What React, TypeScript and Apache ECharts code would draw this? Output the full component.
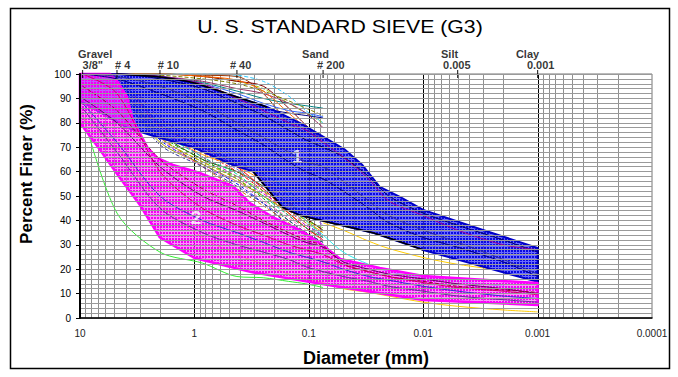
import React, { useEffect, useRef } from 'react';
import * as echarts from 'echarts';

const FONT = 'Liberation Sans, Arial, Helvetica, sans-serif';

// ---------- axis ticks ----------
const xTickLabels = ['10', '1', '0.1', '0.01', '0.001', '0.0001'];
const minorMultipliers = [2, 3, 4, 5, 6, 7, 8, 9];
const decadeBases = [1, 0.1, 0.01, 0.001, 0.0001];
const decadeLines = [1, 0.1, 0.01, 0.001];

// ---------- header (sieves & soil classes) ----------
const sieveMarks = [9.5, 4.75, 2.0, 0.425, 0.075, 0.005, 0.001];
const sieveNames = ['3/8"', '# 4', '# 10', '# 40', '# 200', '0.005', '0.001'];
const soilClassMarks = [9.5, 0.075, 0.005, 0.001];
const soilClassNames = ['Gravel', 'Sand', 'Silt', 'Clay'];

// ---------- sizes (mm) ----------
const sieveSizes = [9.5, 4.75, 2.0, 0.85, 0.425, 0.25, 0.15, 0.106, 0.075];
const hydroSizes = [0.05, 0.03, 0.02, 0.01, 0.005, 0.002, 0.001];

// ---------- envelope 1 (blue) ----------
const band1TopSizes = [10, 4.75, 2.0, 1.0, 0.425, 0.232, 0.119, 0.072, 0.048, 0.034, 0.024, 0.016, 0.01, 0.0032, 0.001];
const band1TopValues = [100, 100, 98.8, 96.3, 90.6, 86.5, 79.9, 73.8, 68.9, 62.7, 53.7, 49.6, 44.3, 36.5, 28.7];
const band1BottomSizes = [10, 3.88, 2.12, 1.03, 0.46, 0.306, 0.218, 0.17, 0.12, 0.053, 0.027, 0.01, 0.001];
const band1BottomValues = [89, 78, 74.2, 70, 62.7, 60, 51.6, 45.5, 42.2, 38.1, 34.8, 27.9, 14.8];

// ---------- envelope 2 (magenta) ----------
const band2TopSizes = [10, 5.47, 4.66, 3.88, 3.44, 2.59, 2.12, 1.54, 0.89, 0.46, 0.325, 0.2, 0.119, 0.08, 0.053, 0.024, 0.01, 0.001];
const band2TopValues = [100, 100, 96.7, 90.6, 81, 70, 65.6, 62.7, 59.4, 54, 47, 41, 36, 30.7, 24.2, 20.5, 17.2, 14.3];
const band2BottomSizes = [10, 6.69, 4.47, 2.99, 2.0, 1.0, 0.325, 0.1, 0.053, 0.01, 0.001];
const band2BottomValues = [80, 68.9, 57.4, 46.3, 33, 24.6, 18.9, 14.8, 12.7, 7.4, 5.3];

const bandLabelSizes = [0.127, 0.97];
const bandLabelValues = [66, 41];
const bandLabelNames = ['1', '2'];

// ---------- individual gradation curves (sieve only: 9 values) ----------
const lnBrown = [100, 100, 100, 99.5, 99, 92, 80, 76, 74];
const lnLimeDash = [100, 100, 100, 99, 97, 94, 88, 84, 80];
const lnSkyDash = [100, 100, 100, 100, 99.5, 97, 91, 85, 80];
const lnTeal = [100, 100, 99, 96.5, 93, 90, 88, 87, 86];
const lnNavyTop = [100, 100, 99, 95, 90, 86, 84, 83, 82];
const lnMaroon = [100, 100, 100, 99, 97, 95, 86, 79, 73];
const lnPlum = [100, 100, 99, 97, 94, 92, 88, 84, 78];
const lnOliveDash = [100, 100, 99.5, 98, 96, 93, 89, 86, 83];
const lnOrangeTop = [100, 100, 100, 99, 97.5, 93, 84, 78, 73];
const lnRoyal = [100, 100, 99, 96, 92, 88, 85, 84, 82.5];

const lnRedDash = [100, 97, 78, 68, 60, 52, 42, 37, 33];
const lnGreenDash = [100, 95, 75, 65, 57, 49, 40, 35, 31];
const lnOrange = [100, 97, 77, 67, 62, 56, 46, 40, 35];
const lnBlueDash = [100, 94, 73, 63, 55, 47, 38, 34, 30];
const lnVioletDash = [100, 99, 79, 69, 63, 58, 50, 44, 38];
const lnOlive = [100, 93, 72, 63, 56, 50, 43, 37, 32];
const lnTeal2 = [100, 98, 80, 70, 64, 59, 52, 46, 42];
const lnBrownDash = [100, 96, 75, 62, 53, 46, 39, 34, 30];
const lnMagentaDash = [100, 97, 78, 66, 58, 51, 44, 38, 34];
const lnForest = [100, 95, 76, 65, 60, 54, 47, 41, 36];
const lnCrimsonDash = [100, 99, 82, 71, 64, 57, 48, 41, 36];
const lnSlateDash = [100, 96, 76, 68, 61, 53, 45, 39, 33];
const lnRed = [100, 98, 79, 70, 62, 53, 43, 37, 32];
const lnLimeDash2 = [100, 94, 74, 64, 58, 52, 45, 40, 37];
const lnPinkDash = [100, 96, 74, 62, 56, 48, 41, 36, 32];
const lnGoldDash = [100, 95, 74, 64, 57, 50, 44, 39, 35];
const lnSeaDash = [100, 97, 77, 66, 59, 50, 42, 37, 33];
const lnNavyDash = [100, 93, 71, 62, 54, 47, 40, 35, 31];
const lnGreen = [84, 43, 27, 22.5, 17, 16.5, 15, 14, 12.5];

// ---------- curves with hydrometer part (16 values) ----------
const lnCyan = [100, 100, 98, 88, 76, 64, 50, 40, 34, 27, 22, 19, 16.5, 15, 13, 11.5];
const lnYellowUpper = [null, null, null, null, null, null, null, null, 39, 36, 31.5, 28.5, 24.8, 22, 19.5, null];
const lnYellowLower = [82, 70, 47, 33, 26, 22, 18, 16, 14.5, 12, 10.5, 9, 6.5, 4.8, 3.3, 2.5];
const lnNavyBand = [100, 100, 98, 94, 88, 83, 77, 73, 70, 66, 58, 50, 43, 38, 32, 27];
const lnPurpleBand = [100, 100, 99, 96, 90, 85, 80, 77, 72, 66, 57, 48, 42, 36, 30, 28];
const lnIndigoBand = [100, 99, 95, 88, 80, 74, 68, 64, 62, 56, 48, 42, 36, 31, 24, 18];
const lnDarkBlueBand = [100, 98, 92, 85, 77, 71, 64, 60, 57, 52, 45, 39, 33, 29, 23, 17];
const lnPlumBand = [90, 80, 62, 50, 44, 39, 34, 31, 29, 23, 20, 18, 16, 14, 12, 10];
const lnRedBand = [95, 85, 65, 53, 46, 40, 35, 32, 29.5, 22, 19, 17, 15, 13, 11.5, 10.5];
const lnBlueBand2 = [88, 72, 50, 40, 35, 31, 27, 25, 23, 20, 17, 15.5, 13, 11, 9, 8];
const lnRoseBand = [100, 92, 60, 45, 38, 34, 30, 28, 26, 22, 19, 17, 14.5, 12.5, 11, 9.5];
const lnGrapeBand = [86, 68, 45, 35, 30, 27, 24, 21, 19, 17, 15, 13, 11, 9, 7.5, 6.5];

// ---------- styles (kept apart from data) ----------
const underStyles: [(number | null)[], string, boolean][] = [
  [lnBrown, '#993300', false],
  [lnLimeDash, '#99cc00', true],
  [lnSkyDash, '#33ccff', true],
  [lnTeal, '#008080', false],
  [lnNavyTop, '#000080', false],
  [lnMaroon, '#800000', false],
  [lnPlum, '#993366', false],
  [lnOliveDash, '#808000', true],
  [lnOrangeTop, '#ff6600', false],
  [lnRoyal, '#3366ff', false],
  [lnRedDash, '#ff0000', true],
  [lnGreenDash, '#00aa00', true],
  [lnOrange, '#ff9900', false],
  [lnBlueDash, '#0000ff', true],
  [lnVioletDash, '#9933ff', true],
  [lnOlive, '#999900', false],
  [lnTeal2, '#009999', false],
  [lnBrownDash, '#cc6600', true],
  [lnMagentaDash, '#cc00cc', true],
  [lnForest, '#336600', false],
  [lnCrimsonDash, '#990000', true],
  [lnSlateDash, '#6666cc', true],
  [lnRed, '#ff0000', false],
  [lnLimeDash2, '#66cc00', true],
  [lnPinkDash, '#ff66cc', true],
  [lnGoldDash, '#cc9900', true],
  [lnSeaDash, '#00cc99', true],
  [lnNavyDash, '#333399', true],
  [lnGreen, '#33ee33', false],
  [lnCyan, '#33eeee', false],
  [lnYellowUpper, '#ffcc00', false],
  [lnYellowLower, '#ffcc00', false],
];
const overStyles: [number[], string, boolean][] = [
  [lnNavyBand, '#000066', false],
  [lnPurpleBand, '#990099', false],
  [lnIndigoBand, '#333399', false],
  [lnDarkBlueBand, '#000080', false],
  [lnPlumBand, '#660066', false],
  [lnRedBand, '#990033', true],
  [lnBlueBand2, '#3333cc', false],
  [lnRoseBand, '#cc0066', false],
  [lnGrapeBand, '#663399', false],
];
const sieveLabelDx = [0, -2, -2.3, -7, -6, -14.6, -10.7];
const classLabelDx = [-4.5, -21, -16.6, -21.7];

function pairs(sizes: number[], values: (number | null)[]) {
  const out: number[][] = [];
  values.forEach((v, i) => {
    if (v != null) out.push([sizes[i], v]);
  });
  return out;
}

function makePattern(base: string, gap: string) {
  const c = document.createElement('canvas');
  c.width = 3;
  c.height = 3;
  const ctx = c.getContext('2d')!;
  ctx.fillStyle = base;
  ctx.fillRect(0, 0, 3, 3);
  ctx.clearRect(0, 0, 3, 1);
  ctx.clearRect(0, 0, 1, 3);
  ctx.fillStyle = gap;
  ctx.fillRect(0, 0, 3, 1);
  ctx.fillRect(0, 1, 1, 2);
  return { image: c.toDataURL(), repeat: 'repeat', imageWidth: 3, imageHeight: 3 } as any;
}

function lineSeries(values: (number | null)[], color: string, dashed: boolean, z: number) {
  const sizes = values.length === 9 ? sieveSizes : sieveSizes.concat(hydroSizes);
  return {
    type: 'line',
    data: pairs(sizes, values),
    symbol: 'none',
    showSymbol: false,
    smooth: 0.3,
    silent: true,
    z,
    lineStyle: { color, width: 1, type: dashed ? [4, 2] : 'solid' },
  };
}

function bandSeries(topS: number[], topV: number[], botS: number[], botV: number[], fill: any, stroke: string, lw: number) {
  return {
    type: 'custom',
    coordinateSystem: 'cartesian2d',
    data: [[1, 50]],
    silent: true,
    z: 3,
    renderItem: (_params: any, api: any) => {
      const pts: number[][] = [];
      topS.forEach((s, i) => pts.push(api.coord([s, topV[i]])));
      for (let i = botS.length - 1; i >= 0; i--) pts.push(api.coord([botS[i], botV[i]]));
      return {
        type: 'polygon',
        shape: { points: pts },
        style: { fill, stroke, lineWidth: lw, lineJoin: 'round' },
      };
    },
  };
}

function gridLineSeries(values: number[], color: string, z: number) {
  return {
    type: 'custom',
    coordinateSystem: 'cartesian2d',
    data: values.map((v) => [v, 50]),
    silent: true,
    z,
    renderItem: (_params: any, api: any) => {
      const v = api.value(0);
      const a = api.coord([v, 0]);
      const b = api.coord([v, 100]);
      const x = Math.round(a[0]) + 0.5;
      return {
        type: 'line',
        shape: { x1: x, y1: a[1], x2: x, y2: b[1] },
        style: { stroke: color, lineWidth: 1 },
      };
    },
  };
}

function buildOption() {
  const minorValues: number[] = [];
  decadeBases.forEach((b) => minorMultipliers.forEach((m) => minorValues.push(b * m)));

  const blueFill = makePattern('#0a0ae0', 'rgba(50,50,255,0.72)');
  const pinkFill = makePattern('#f400f4', 'rgba(255,70,255,0.6)');

  const series: any[] = [];
  series.push(gridLineSeries(minorValues, '#8f8f8f', 1));
  series.push(gridLineSeries(decadeLines, '#000000', 1));
  underStyles.forEach(([v, c, d]) => series.push(lineSeries(v, c, d, 2)));
  series.push(bandSeries(band1TopSizes, band1TopValues, band1BottomSizes, band1BottomValues, blueFill, '#0000c8', 2));
  series.push(bandSeries(band2TopSizes, band2TopValues, band2BottomSizes, band2BottomValues, pinkFill, '#ff00ff', 2.5));
  overStyles.forEach(([v, c, d]) => series.push(lineSeries(v, c, d, 4)));
  // dark edges of envelope 1
  series.push({
    type: 'line',
    data: pairs(band1TopSizes.slice(1, 6), band1TopValues.slice(1, 6)),
    symbol: 'none', smooth: 0.2, silent: true, z: 4,
    lineStyle: { color: '#000', width: 1.5 },
  });
  series.push({
    type: 'line',
    data: pairs(band1BottomSizes.slice(5, 12), band1BottomValues.slice(5, 12)),
    symbol: 'none', smooth: 0.2, silent: true, z: 4,
    lineStyle: { color: '#000', width: 1.5 },
  });
  // envelope labels
  series.push({
    type: 'scatter',
    symbolSize: 0,
    silent: true,
    z: 6,
    data: bandLabelNames.map((n, i) => ({ name: n, value: [bandLabelSizes[i], bandLabelValues[i]] })),
    label: {
      show: true, position: 'inside', formatter: '{b}',
      color: '#fff', fontSize: 19, fontWeight: 'bold', fontFamily: FONT,
    },
  });
  // sieve ticks on the top
  series.push({
    type: 'scatter',
    symbol: 'rect',
    symbolSize: [1.2, 8],
    silent: true,
    clip: false,
    z: 6,
    itemStyle: { color: '#000' },
    data: sieveMarks.map((s) => [s, 100]),
  });
  const headerItems: any[] = [];
  sieveMarks.forEach((s, i) =>
    headerItems.push({ value: [s, 100], label: { formatter: sieveNames[i], offset: [sieveLabelDx[i], -9.5] } })
  );
  soilClassMarks.forEach((s, i) =>
    headerItems.push({ value: [s, 100], label: { formatter: soilClassNames[i], offset: [classLabelDx[i], -20.5] } })
  );
  series.push({
    type: 'scatter',
    symbolSize: 0,
    silent: true,
    clip: false,
    z: 6,
    data: headerItems,
    label: {
      show: true, position: 'inside', align: 'left', verticalAlign: 'middle',
      color: '#000', fontSize: 11, lineHeight: 10, fontWeight: 'bold', fontFamily: FONT,
    },
  });

  return {
    animation: false,
    backgroundColor: '#fff',
    grid: { left: 80, top: 74, width: 572, height: 244, show: true, borderColor: '#777', borderWidth: 1, backgroundColor: '#fff' },
    xAxis: {
      type: 'log',
      logBase: 10,
      min: 0.0001,
      max: 10,
      inverse: true,
      z: 10,
      axisLine: { show: true, onZero: false, lineStyle: { color: '#000', width: 1.5 } },
      axisTick: { show: false },
      splitLine: { show: false },
      axisLabel: {
        fontSize: 10, color: '#222', margin: 10, fontFamily: FONT,
        showMinLabel: true, showMaxLabel: true,
        formatter: (v: number) => {
          const e = Math.round(Math.log10(v));
          return xTickLabels[1 - e] ?? '';
        },
      },
      name: 'Diameter (mm)',
      nameLocation: 'middle',
      nameGap: 31,
      nameTextStyle: { fontSize: 18, fontWeight: 'bold', color: '#000', fontFamily: FONT },
    },
    yAxis: {
      type: 'value',
      min: 0,
      max: 100,
      interval: 10,
      z: 10,
      axisLine: { show: true, lineStyle: { color: '#000', width: 2 } },
      axisTick: { show: true, length: 4, lineStyle: { color: '#000' } },
      axisLabel: { fontSize: 10, color: '#000', margin: 9, fontFamily: FONT },
      splitLine: { show: true, lineStyle: { color: '#9a9a9a', width: 1 } },
      minorTick: { show: false, splitNumber: 5 },
      minorSplitLine: { show: true, lineStyle: { color: '#9a9a9a', width: 1 } },
    },
    graphic: [
      {
        type: 'rect', silent: true, z: 0,
        shape: { x: 10.5, y: 8.5, width: 659, height: 360 },
        style: { fill: 'none', stroke: '#000', lineWidth: 1.5 },
      },
      {
        type: 'text', silent: true, x: 340, y: 26, scaleX: 1.12,
        style: { text: 'U. S. STANDARD SIEVE (G3)', fill: '#000', fontSize: 19, fontFamily: FONT, align: 'center', verticalAlign: 'middle' },
      },
      {
        type: 'text', silent: true, x: 26, y: 174, rotation: Math.PI / 2,
        style: { text: 'Percent Finer (%)', fill: '#000', fontSize: 17, fontWeight: 'bold', fontFamily: FONT, align: 'center', verticalAlign: 'middle' },
      },
    ],
    series,
  };
}

export default function App() {
  const ref = useRef<HTMLDivElement>(null);
  useEffect(() => {
    const chart = echarts.init(ref.current!, null, { renderer: 'svg' });
    chart.setOption(buildOption() as any);
    return () => chart.dispose();
  }, []);
  return (
    <div
      ref={ref}
      style={{ position: 'fixed', left: 0, top: 0, width: 678, height: 377, background: '#fff' }}
    />
  );
}
